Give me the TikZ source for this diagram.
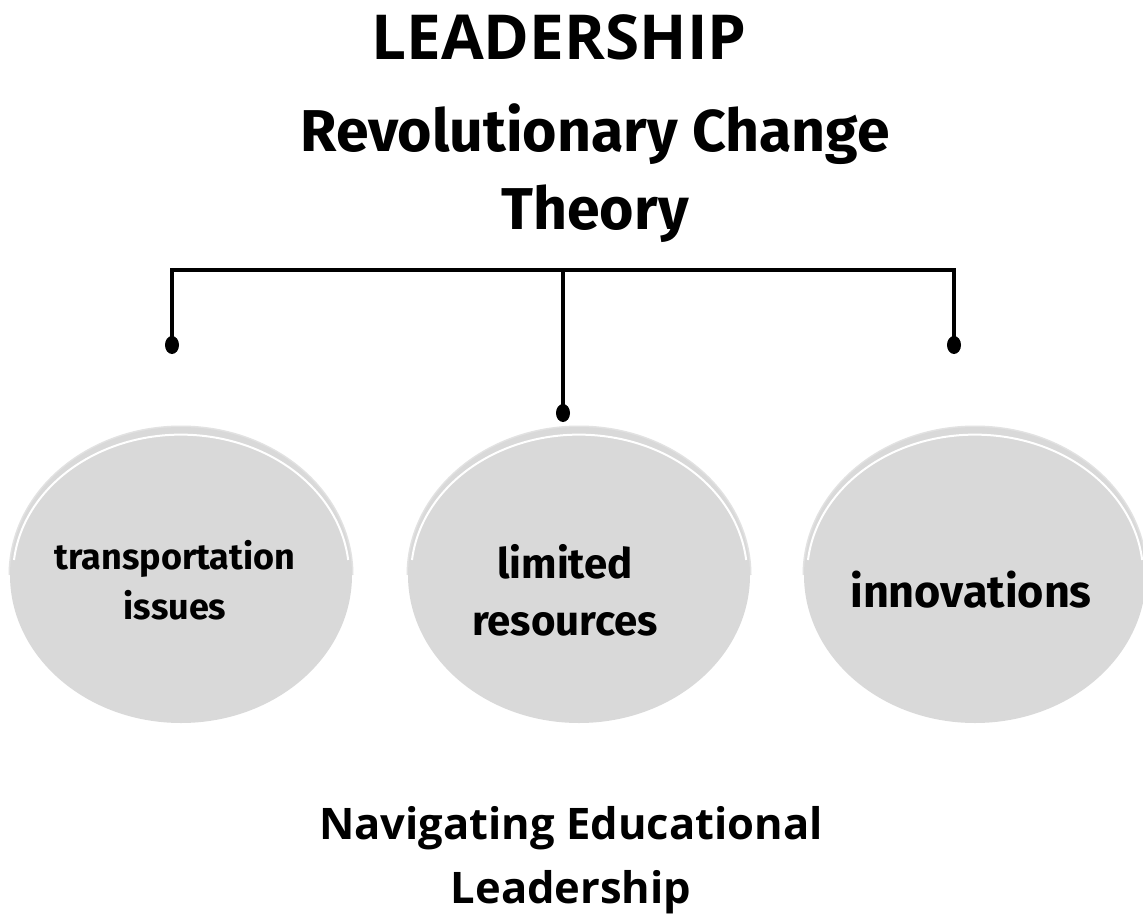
\documentclass[tikz,border=0pt]{standalone}
\usepackage{fontspec}
\setmainfont{Open Sans}
\newfontfamily\roundfont{Fira Sans}
\begin{document}
\begin{tikzpicture}[x=1pt,y=-1pt,
  bubble/.style={fill=bubblegray,draw=none},
  rim/.style={draw=rimgray,line width=3pt},
  gloss/.style={draw=white,line width=2pt},
  conn/.style={draw=black,line width=4pt},
  knob/.style={fill=black,draw=none},
  headtext/.style={font=\bfseries\fontsize{62}{70}\selectfont,inner sep=0pt},
  roundtitle/.style={font=\roundfont\bfseries\fontsize{59}{78}\selectfont,align=center,inner sep=0pt},
  bubbletext/.style={font=\roundfont\bfseries\fontsize{#1}{55}\selectfont,align=center,inner sep=0pt},
  foottext/.style={font=\bfseries\fontsize{43.5}{64}\selectfont,align=center,inner sep=0pt}]
\definecolor{bubblegray}{HTML}{D9D9D9}
\definecolor{rimgray}{HTML}{E2E2E2}
\useasboundingbox (0,0) rectangle (1143,915);
\fill[white] (0,0) rectangle (1143,915);

% headings
\node[headtext] (lead) at (559,37) {LEADERSHIP};
\node[roundtitle] (theory) at (595,173) {Revolutionary Change\\Theory};

% three bubbles with a soft rim along the top
\foreach \name/\cx in {bl/181,bm/579,br/975}{
  \draw[rim] (\cx-171,575) arc[start angle=180,end angle=360,x radius=171,y radius=148];
  \fill[bubble] (\cx,575) ellipse[x radius=171,y radius=148];
  \draw[gloss] (\cx-167,560) arc[start angle=186,end angle=354,x radius=168,y radius=140];
  \coordinate (\name) at (\cx,575);
}
\node[bubbletext=36,font=\roundfont\bfseries\fontsize{36}{50}\selectfont] (tl) at (175,580) {transportation\\issues};
\node[bubbletext=42,font=\roundfont\bfseries\fontsize{42}{57}\selectfont] (tm) at (565,590) {limited\\resources};
\node[bubbletext=45] (tr) at (971,590) {innovations};

% bracket from the theory down to the bubbles
\coordinate (bar) at (563,270);
\coordinate (dL) at (172,345);
\coordinate (dM) at (563,413);
\coordinate (dR) at (954,345);
\draw[conn] (dL) -- (dL|-bar) -- (dR|-bar) -- (dR);
\draw[conn] (bar) -- (dM);
\foreach \d in {dL,dM,dR}
  \fill[knob] (\d) ellipse[x radius=7,y radius=9];

% footer
\node[foottext] (foot) at (571,860) {Navigating Educational\\Leadership};
\end{tikzpicture}
\end{document}
